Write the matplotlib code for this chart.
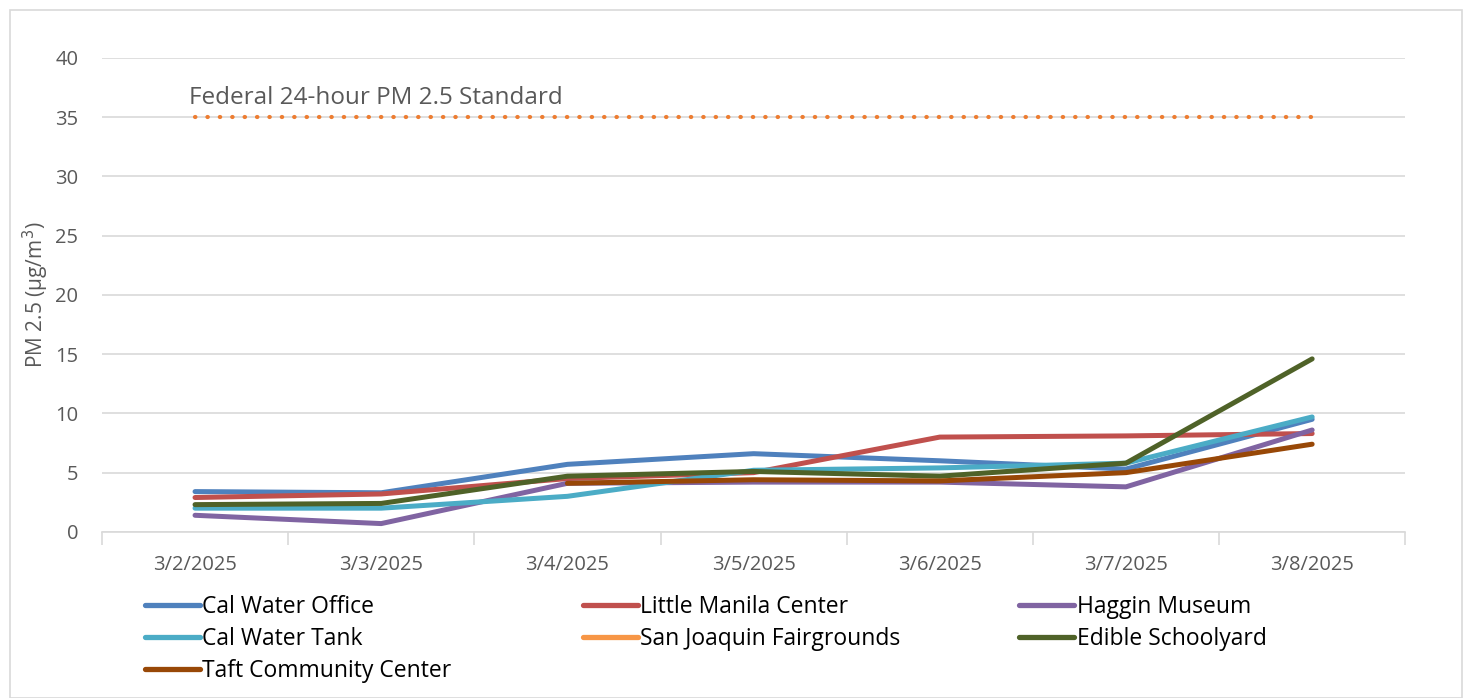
import numpy as np
import matplotlib.pyplot as plt
from matplotlib.lines import Line2D
from matplotlib.patches import Rectangle

plt.rcParams['font.family'] = ['Open Sans', 'DejaVu Sans']

dates = ['3/2/2025', '3/3/2025', '3/4/2025', '3/5/2025', '3/6/2025', '3/7/2025', '3/8/2025']
nan = np.nan

cal_water_office = [3.4, 3.3, 5.7, 6.6, 6.0, 5.3, 9.5]
little_manila = [2.9, 3.2, 4.5, 5.0, 8.0, 8.1, 8.3]
haggin_museum = [1.4, 0.7, 4.1, 4.2, 4.2, 3.8, 8.6]
cal_water_tank = [2.0, 2.0, 3.0, 5.2, 5.4, 5.8, 9.7]
san_joaquin = [nan, nan, nan, nan, nan, nan, nan]
edible_schoolyard = [2.3, 2.4, 4.7, 5.1, 4.7, 5.8, 14.6]
taft_center = [nan, nan, 4.1, 4.4, 4.3, 5.0, 7.4]
standard = [35] * 7

series = [
    ('Cal Water Office', cal_water_office, '#4F81BD'),
    ('Little Manila Center', little_manila, '#C0504D'),
    ('Haggin Museum', haggin_museum, '#8064A2'),
    ('Cal Water Tank', cal_water_tank, '#4BACC6'),
    ('San Joaquin Fairgrounds', san_joaquin, '#F79646'),
    ('Edible Schoolyard', edible_schoolyard, '#4F6228'),
    ('Taft Community Center', taft_center, '#984807'),
]

fig = plt.figure(figsize=(14.71, 6.98), dpi=100)
ax = fig.add_axes([0.0693, 0.238, 0.886, 0.679])

x = np.arange(len(dates))
ax.plot(x, standard, color='#ED7D31', lw=3, linestyle=(0, (0.1, 2.875)),
        dash_capstyle='round')
for name, vals, col in series:
    ax.plot(x, vals, color=col, lw=3.6, solid_capstyle='round',
            solid_joinstyle='round', label=name)

ax.text(-0.03, 36.6, 'Federal 24-hour PM 2.5 Standard', ha='left', va='center',
        fontsize=17.5, color='#595959')

ax.set_xlim(-0.5, 6.5)
ax.set_ylim(0, 40)
ax.set_yticks(range(0, 41, 5))
ax.set_xticks(x)
ax.set_xticklabels(dates)
ax.set_xticks(np.arange(-0.5, 7, 1), minor=True)
ax.tick_params(axis='x', which='major', length=0, pad=17, labelsize=14.5, labelcolor='#595959')
ax.tick_params(axis='x', which='minor', length=9, color='#D9D9D9', width=1.2)
ax.tick_params(axis='y', length=0, pad=17, labelsize=14.5, labelcolor='#595959')
ax.yaxis.grid(True, color='#D9D9D9', lw=1.2)
ax.set_axisbelow(True)
for s in ['top', 'right', 'left']:
    ax.spines[s].set_visible(False)
ax.spines['bottom'].set_color('#D9D9D9')
ax.spines['bottom'].set_linewidth(1.2)
ax.set_ylabel('PM 2.5 (μg/m$^3$)', fontsize=15, color='#595959')
ax.yaxis.set_label_coords(-0.039, 0.5)

# legend, three columns laid out row by row
cols_x = [0.0986, 0.396, 0.693]
rows = [series[0::3], series[1::3], series[2::3]]
for cx, col_items in zip(cols_x, rows):
    handles = [Line2D([], [], color=c, lw=3.8, solid_capstyle='round') for _, _, c in col_items]
    labels = [n for n, _, _ in col_items]
    fig.legend(handles, labels, loc='upper left', bbox_to_anchor=(cx, 0.147),
               frameon=False, fontsize=16.5, handlelength=2.4, handletextpad=0.1,
               labelspacing=0.35, borderaxespad=0, borderpad=0)

fig.add_artist(Rectangle((0.007, 0.0), 0.987, 0.985, transform=fig.transFigure,
                         fill=False, edgecolor='#D9D9D9', lw=1.2))

fig.savefig('out.png', dpi=100)
